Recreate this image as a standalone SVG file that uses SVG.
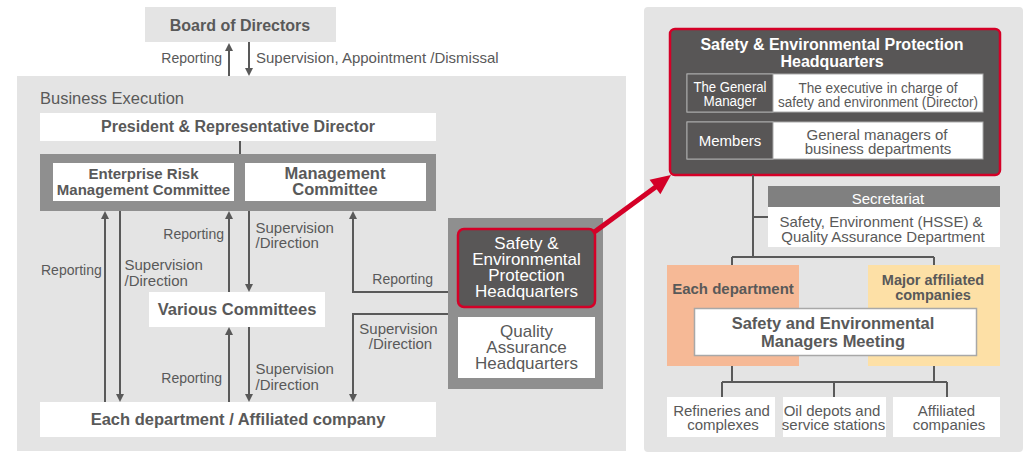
<svg xmlns="http://www.w3.org/2000/svg" width="1029" height="453" viewBox="0 0 1029 453">
<defs>
<style>
text{font-family:"Liberation Sans",Arial,sans-serif;fill:#595959}
.b{font-weight:bold}
.c{text-anchor:middle}
.e{text-anchor:end}
.lbl{font-size:15px}
.rep{font-size:14px}
.w{fill:#fff}
.ln{stroke:#595959;stroke-width:2;fill:none}
.box{fill:#fff}
</style>
<marker id="ah" markerUnits="userSpaceOnUse" markerWidth="8" markerHeight="8" refX="6" refY="4" orient="auto" viewBox="0 0 8 8">
<path d="M0,0 L8,4 L0,8 z" fill="#595959"/>
</marker>
</defs>
<rect width="1029" height="453" fill="#fff"/>
<!-- panels -->
<rect id="panel-business" x="17" y="76" width="609" height="375" fill="#e4e4e4"/>
<rect id="panel-safety" x="644" y="7" width="379" height="445" rx="4" fill="#e4e4e4"/>
<text x="40" y="104" style="font-size:16.5px">Business Execution</text>

<g id="board"><rect x="145" y="7" width="191" height="35" fill="#e4e4e4"/><text class="b c" x="240" y="31" style="font-size:16px">Board of Directors</text></g>
<g id="president"><rect class="box" x="40" y="113" width="396" height="28"/><text class="b c" x="238" y="132" style="font-size:16px">President &amp; Representative Director</text></g>
<g id="committees-group"><rect x="40" y="154" width="396" height="57" fill="#8f8f8f"/></g>
<g id="erm"><rect class="box" x="53" y="163" width="181" height="38"/><text class="b c" x="143.5" y="179" style="font-size:15px">Enterprise Risk</text><text class="b c" x="143.5" y="195" style="font-size:15px">Management Committee</text></g>
<g id="mgmt"><rect class="box" x="245" y="163" width="181" height="38"/><text class="b c" x="335" y="179" style="font-size:16.5px">Management</text><text class="b c" x="335" y="195" style="font-size:16.5px">Committee</text></g>
<g id="various"><rect class="box" x="149" y="292" width="176" height="35"/><text class="b c" x="237" y="315" style="font-size:16.5px">Various Committees</text></g>
<g id="each-dept"><rect class="box" x="40" y="402" width="396" height="35"/><text class="b c" x="238" y="425" style="font-size:16.5px">Each department / Affiliated company</text></g>
<g id="hq-group"><rect x="448" y="218" width="155" height="171" fill="#8f8f8f"/></g>
<g id="sep-hq-small"><rect x="458" y="229" width="137" height="78" rx="6" fill="#595757" stroke="#d40027" stroke-width="2.5"/>
<text class="c w" x="526.5" y="249" style="font-size:17px">Safety &amp;</text>
<text class="c w" x="526.5" y="265" style="font-size:17px">Environmental</text>
<text class="c w" x="526.5" y="281" style="font-size:17px">Protection</text>
<text class="c w" x="526.5" y="297" style="font-size:17px">Headquarters</text></g>
<g id="qa-hq"><rect class="box" x="458" y="317" width="137" height="61"/>
<text class="c" x="526.5" y="337" style="font-size:17px">Quality</text>
<text class="c" x="526.5" y="353" style="font-size:17px">Assurance</text>
<text class="c" x="526.5" y="369" style="font-size:17px">Headquarters</text></g>

<!-- right panel nodes -->
<g id="sep-hq"><rect x="670" y="29" width="330" height="146" rx="5" fill="#585656" stroke="#d40027" stroke-width="2.5"/>
<text class="b c w" x="832" y="50" style="font-size:16px">Safety &amp; Environmental Protection</text>
<text class="b c w" x="832" y="66.5" style="font-size:16px">Headquarters</text>
<rect x="687" y="74" width="296" height="38" fill="#fff" stroke="#aaa" stroke-width="1"/>
<rect x="687" y="74" width="86" height="38" fill="#585656" stroke="#aaa" stroke-width="1"/>
<text class="c w" x="730" y="92" style="font-size:14px" textLength="73" lengthAdjust="spacingAndGlyphs">The General</text>
<text class="c w" x="730" y="106" style="font-size:14px" textLength="53" lengthAdjust="spacingAndGlyphs">Manager</text>
<text class="c" x="878" y="92.5" style="font-size:14px" textLength="159" lengthAdjust="spacingAndGlyphs">The executive in charge of</text>
<text class="c" x="878" y="107" style="font-size:14px" textLength="200" lengthAdjust="spacingAndGlyphs">safety and environment (Director)</text>
<rect x="687" y="122" width="296" height="37" fill="#fff" stroke="#aaa" stroke-width="1"/>
<rect x="687" y="122" width="86" height="37" fill="#585656" stroke="#aaa" stroke-width="1"/>
<text class="c w" x="730" y="146" style="font-size:15px">Members</text>
<text class="c" x="877" y="139.5" style="font-size:15px">General managers of</text>
<text class="c" x="878" y="153.5" style="font-size:15px">business departments</text></g>
<g id="secretariat"><rect x="768" y="186" width="232" height="21" fill="#808080"/><rect x="768" y="207" width="232" height="40" fill="#fff"/>
<text class="c w" x="888" y="203.5" style="font-size:15px;fill:#fff">Secretariat</text>
<text class="c" x="881" y="226.5" style="font-size:15px">Safety, Environment (HSSE) &amp;</text>
<text class="c" x="883" y="241.5" style="font-size:15px">Quality Assurance Department</text></g>
<g id="each-department"><rect x="667" y="265" width="132" height="101" fill="#f6b996"/><text class="b c" x="733" y="294" style="font-size:15px">Each department</text></g>
<g id="major-affiliated"><rect x="868" y="265" width="132" height="101" fill="#fde0a6"/><text class="b c" x="933" y="285" style="font-size:14.5px">Major affiliated</text><text class="b c" x="933" y="300" style="font-size:14.5px">companies</text></g>
<g id="meeting"><rect x="694.5" y="308.5" width="282" height="47" fill="#fff" stroke="#a8a8a8" stroke-width="1.5"/><text class="b c" x="833" y="329" style="font-size:16.5px">Safety and Environmental</text><text class="b c" x="833" y="346.5" style="font-size:16.5px">Managers Meeting</text></g>
<g id="refineries"><rect class="box" x="667" y="397" width="108" height="40"/><text class="c" x="721.5" y="415.5" style="font-size:15px">Refineries and</text><text class="c" x="723" y="430" style="font-size:15px">complexes</text></g>
<g id="oil-depots"><rect class="box" x="783" y="397" width="103" height="40"/><text class="c" x="832" y="415.5" style="font-size:15px">Oil depots and</text><text class="c" x="833.5" y="430" style="font-size:15px">service stations</text></g>
<g id="affiliated"><rect class="box" x="893" y="397" width="107" height="40"/><text class="c" x="946.5" y="415.5" style="font-size:15px">Affiliated</text><text class="c" x="949" y="430" style="font-size:15px">companies</text></g>

<!-- connectors -->
<g id="connectors">
<line class="ln" x1="229" y1="76" x2="229" y2="45" marker-end="url(#ah)"/>
<line class="ln" x1="249" y1="42" x2="249" y2="74" marker-end="url(#ah)"/>
<line class="ln" x1="240" y1="141" x2="240" y2="154"/>
<line class="ln" x1="105" y1="402" x2="105" y2="213" marker-end="url(#ah)"/>
<line class="ln" x1="120" y1="211" x2="120" y2="400" marker-end="url(#ah)"/>
<line class="ln" x1="229" y1="292" x2="229" y2="213" marker-end="url(#ah)"/>
<line class="ln" x1="249" y1="211" x2="249" y2="290" marker-end="url(#ah)"/>
<line class="ln" x1="229" y1="402" x2="229" y2="329" marker-end="url(#ah)"/>
<line class="ln" x1="249" y1="327" x2="249" y2="400" marker-end="url(#ah)"/>
<path class="ln" d="M448,292 H353 V213" marker-end="url(#ah)"/>
<path class="ln" d="M448,314 H353 V400" marker-end="url(#ah)"/>
<line x1="593" y1="233" x2="657" y2="186" stroke="#d40027" stroke-width="5"/>
<polygon points="671,175 660.4,194.2 649.6,179.8" fill="#d40027"/>
<path class="ln" d="M753,175 V257 M753,217 H768 M732,257 H934 M732,257 V265 M934,257 V265 M732,366 V382 M934,366 V382 M722,382 H947 M722,382 V397 M834,382 V397 M947,382 V397"/>
<text class="rep e" x="222" y="62.5">Reporting</text>
<text class="lbl" x="256" y="62.5">Supervision, Appointment /Dismissal</text>
<text class="rep" x="41" y="275">Reporting</text>
<text class="lbl" x="124.5" y="270">Supervision</text>
<text class="lbl" x="124.5" y="286">/Direction</text>
<text class="rep e" x="224" y="238.5">Reporting</text>
<text class="lbl" x="255.5" y="232.5">Supervision</text>
<text class="lbl" x="255.5" y="248">/Direction</text>
<text class="rep e" x="222" y="382.5">Reporting</text>
<text class="lbl" x="255.5" y="374">Supervision</text>
<text class="lbl" x="255.5" y="390">/Direction</text>
<text class="rep e" x="433" y="284">Reporting</text>
<text class="lbl c" x="398.5" y="333.5">Supervision</text>
<text class="lbl c" x="400.5" y="348.5">/Direction</text>
</g>
</svg>
